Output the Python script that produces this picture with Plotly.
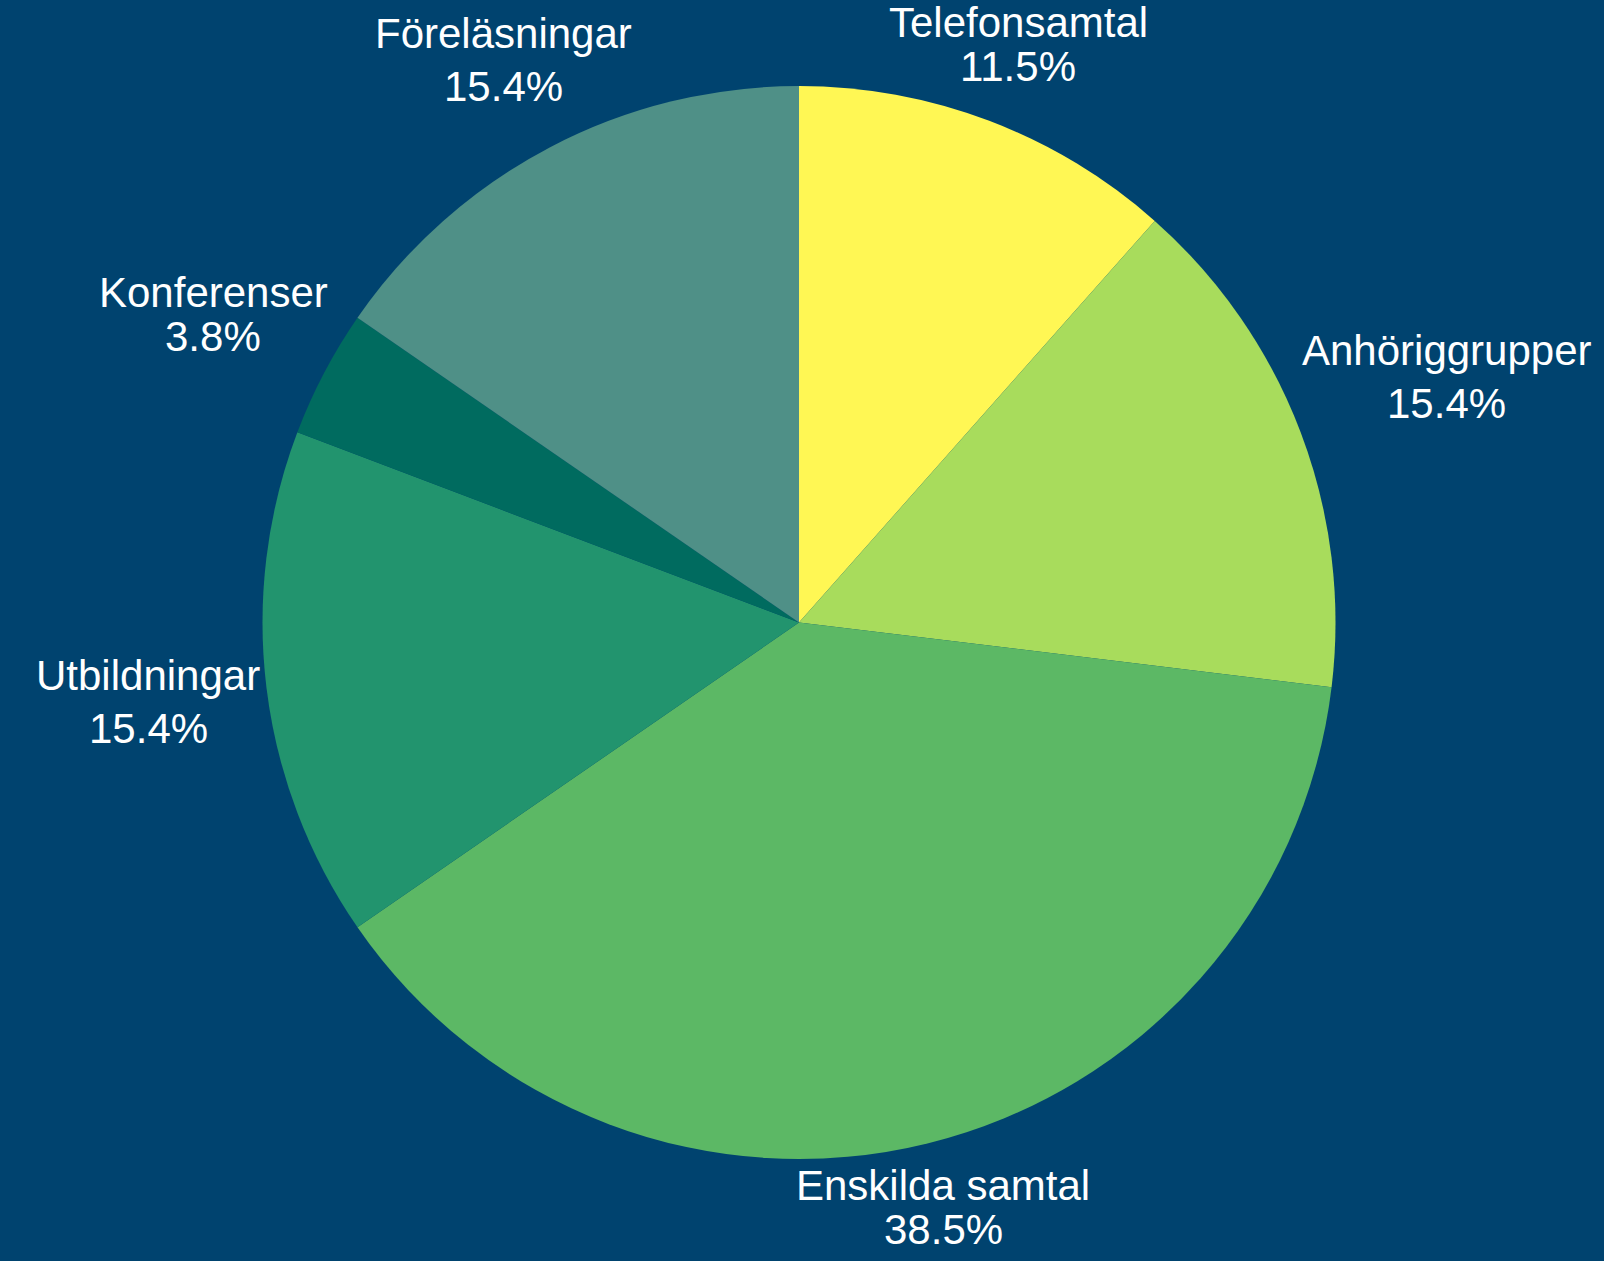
import math
import plotly.graph_objects as go

labels = ["Telefonsamtal", "Anhöriggrupper", "Enskilda samtal", "Utbildningar", "Konferenser", "Föreläsningar"]
values = [3, 4, 10, 4, 1, 4]
colors = ["#fff754", "#a8dc5c", "#5cb865", "#22946e", "#006b5f", "#4f9087"]
bg = "#00436f"

W, H = 1604, 1261
cx, cy, r = 799, 622.5, 536.5
FS = 42
ASC, DESC = 0.905 * FS, 0.212 * FS
GAP = 3

# Approximate Arial/Liberation Sans advance widths (per 1000 em) for label box sizing
AW = {"T": 611, "e": 556, "l": 222, "f": 278, "o": 556, "n": 556, "s": 500, "a": 556, "m": 833,
      "t": 278, "A": 667, "h": 556, "ö": 556, "r": 333, "i": 222, "g": 556, "u": 556, "p": 556,
      "E": 667, "k": 500, "d": 556, " ": 278, "U": 722, "b": 556, "K": 667, "F": 611, "ä": 556,
      ".": 278, "%": 889}


def text_w(s):
    return sum(AW.get(c, 556) for c in s) * FS / 1000.0


def box_dist(px, py, hw, hh):
    nx = min(max(0.0, px - hw), px + hw)
    ny = min(max(0.0, py - hh), py + hh)
    return math.hypot(nx, ny)


fig = go.Figure(go.Pie(
    labels=labels,
    values=values,
    sort=False,
    direction="clockwise",
    rotation=0,
    marker=dict(colors=colors, line=dict(width=0)),
    textinfo="none",
    showlegend=False,
    hoverinfo="skip",
    domain=dict(x=[(cx - r) / W, (cx + r) / W], y=[1 - (cy + r) / H, 1 - (cy - r) / H]),
))

total = sum(values)
cum = 0
annotations = []
for lab, v in zip(labels, values):
    mid = (cum + v / 2) / total * 2 * math.pi
    cum += v
    pct = f"{v / total * 100:.1f}%"
    line = 53 if any(ch in "gjpqy" for ch in lab) else 44
    hw = max(text_w(lab), text_w(pct)) / 2
    hh = (ASC + line + DESC) / 2
    s, c = math.sin(mid), math.cos(mid)
    lo, hi = 0.0, 2000.0
    for _ in range(60):
        d = (lo + hi) / 2
        if box_dist(d * s, -d * c, hw, hh) < r + GAP:
            lo = d
        else:
            hi = d
    d = (lo + hi) / 2
    px = cx + d * s
    py = cy - d * c
    base1 = py - hh + ASC
    for txt, base in ((lab, base1), (pct, base1 + line)):
        ymid = base - (ASC - DESC) / 2
        annotations.append(dict(
            x=px / W, y=1 - ymid / H, xref="paper", yref="paper",
            text=txt, showarrow=False, xanchor="center", yanchor="middle",
            font=dict(family="Liberation Sans", size=FS, color="white"),
        ))

fig.update_layout(
    width=W, height=H,
    margin=dict(l=0, r=0, t=0, b=0),
    paper_bgcolor=bg, plot_bgcolor=bg,
    annotations=annotations,
)
fig.write_html("out.html", config={"displayModeBar": False},
               post_script="document.body.style.margin='0';document.body.style.background='%s';" % bg)
